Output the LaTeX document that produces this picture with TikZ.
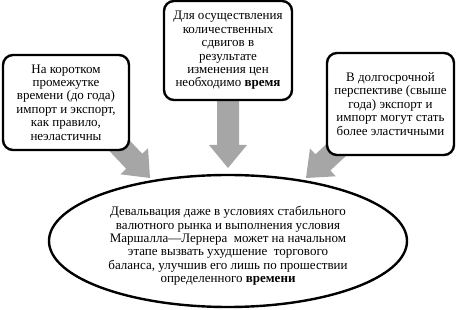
\documentclass[tikz,border=0pt]{standalone}
\usepackage{fontspec}
\setmainfont{Liberation Serif}
\usetikzlibrary{calc,shapes.geometric}
\definecolor{arrowgray}{RGB}{166,166,166}
\newcommand\blockarr[2]{%
  \coordinate (hb) at ($(#2)!23pt!(#1)$);
  \fill[arrowgray] ($(#1)!11pt!90:(#2)$) -- ($(hb)!11pt!-90:(#1)$) -- ($(hb)!19pt!-90:(#1)$) -- (#2)
    -- ($(hb)!19pt!90:(#1)$) -- ($(hb)!11pt!90:(#1)$) -- ($(#1)!11pt!-90:(#2)$) -- cycle;
}
\tikzset{
  txt/.style={font=\fontsize{13}{13.4}\selectfont, align=center},
  box/.style={txt, draw, line width=2.4pt, rounded corners=10pt, fill=white, inner sep=0pt},
  oval/.style={draw, ellipse, line width=2.4pt, inner sep=0pt}
}
\begin{document}
\begin{tikzpicture}[x=1pt,y=-1pt]
\useasboundingbox (0,0) rectangle (459,310);
% arrow coordinates
\coordinate (l0) at (100,125);
\coordinate (l1) at (150,178);
\coordinate (m0) at (228,95);
\coordinate (m1) at (228,168);
\coordinate (r0) at (360,128);
\coordinate (r1) at (306,178);
\blockarr{l0}{l1}
\blockarr{m0}{m1}
\blockarr{r0}{r1}
% boxes
\node[box, minimum width=126, minimum height=95] (left) at (66,102.5)
 {На коротком\\промежутке\\времени (до года)\\импорт и экспорт,\\как правило,\\неэластичны};
\node[box, minimum width=128, minimum height=99] (mid) at (228,50.5)
 {Для осуществления\\количественных\\сдвигов в\\результате\\изменения цен\\необходимо \textbf{время}};
\node[box, minimum width=127, minimum height=102] (right) at (390.5,104)
 {В долгосрочной\\перспективе (свыше\\года) экспорт и\\импорт могут стать\\более эластичными};
% ellipse
\node[oval, minimum width=358, minimum height=132] (main) at (228,241) {};
\node[txt, inner sep=0pt] (maintext) at (228,246)
 {Девальвация даже в условиях стабильного\\валютного рынка и выполнения условия\\Маршалла—Лернера\ \ может на начальном\\этапе вызвать ухудшение\ \ торгового\\баланса, улучшив его лишь по прошествии\\определенного \textbf{времени}};
\end{tikzpicture}
\end{document}
